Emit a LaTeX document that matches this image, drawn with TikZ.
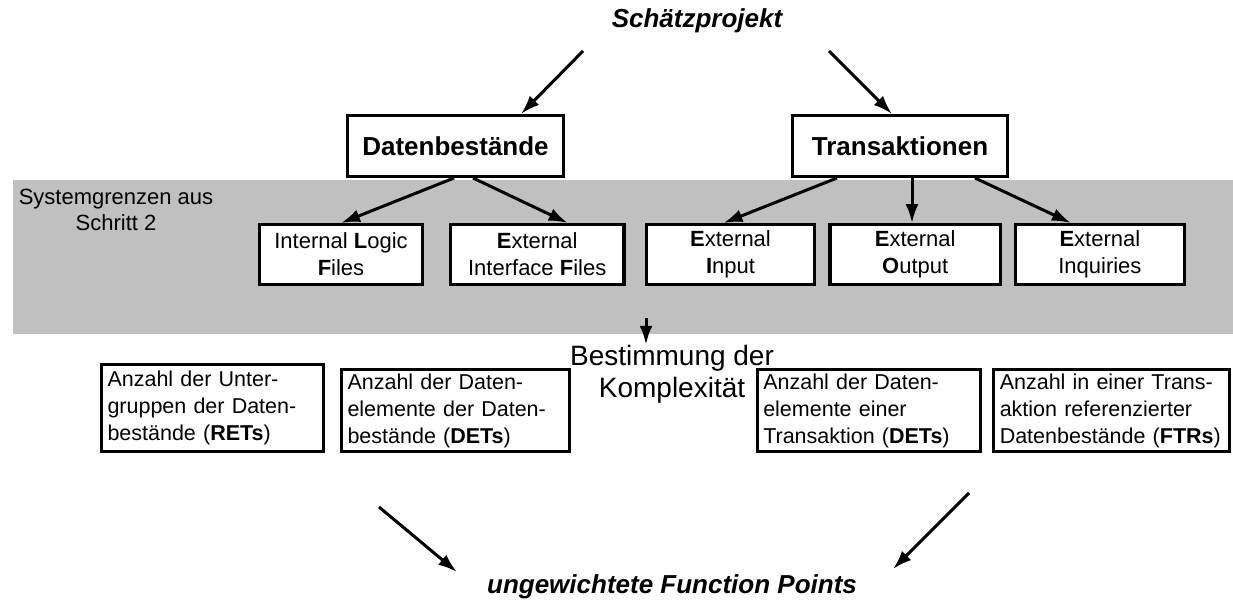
\documentclass[tikz,border=0pt]{standalone}
\usepackage{fontspec}
\setmainfont{Liberation Sans}
\usepackage{xcolor}
\usepackage{tikz}
\usetikzlibrary{arrows.meta, positioning}

\definecolor{bandgray}{RGB}{192,192,192}

\begin{document}
\begin{tikzpicture}[
  x=1pt, y=-1pt,
  every node/.style={inner sep=0pt},
  mainbox/.style={rectangle, draw=black, line width=3.2pt, fill=white, minimum height=60.8pt, font=\fontsize{26}{30}\selectfont\bfseries},
  typebox/.style={rectangle, draw=black, line width=3.2pt, fill=white, minimum height=59.8pt, align=center, font=\fontsize{22}{27}\selectfont},
  countbox/.style={rectangle, draw=black, line width=3pt, fill=white, minimum height=82pt, align=left, inner xsep=6pt, font=\fontsize{21.5}{27}\selectfont},
  heading/.style={font=\fontsize{26}{30}\selectfont\bfseries\itshape},
  note/.style={align=center, font=\fontsize{22}{26}\selectfont},
  arr/.style={-{Latex[length=19pt, width=13pt]}, line width=3pt}
]
  \useasboundingbox (0,0) rectangle (1233,602);

  % system boundary
  \fill[bandgray] (13,180) rectangle (1233,334);
  \node[note] (sys) at (116,210) {Systemgrenzen aus\\Schritt 2};

  \node[heading] (proj) at (697,21) {Schätzprojekt};
  \node[mainbox, minimum width=215.4pt] (dat) at (455.5,146) {Datenbestände};
  \node[mainbox, minimum width=214.4pt] (trans) at (900,146) {Transaktionen};

  \node[typebox, minimum width=162.4pt] (ilf) at (341,254.5) {Internal \textbf{L}ogic\\\textbf{F}iles};
  \node[typebox, minimum width=173.6pt, right=25pt of ilf] (eif) {\textbf{E}xternal\\Interface \textbf{F}iles};
  \node[typebox, minimum width=168.6pt, right=19pt of eif] (ei) {\textbf{E}xternal\\\textbf{I}nput};
  \node[typebox, minimum width=170.4pt, right=12pt of ei] (eo) {\textbf{E}xternal\\\textbf{O}utput};
  \node[typebox, minimum width=168.6pt, right=12pt of eo] (eq) {\textbf{E}xternal\\Inquiries};

  \draw[arr] ([xshift=-114pt, yshift=-30pt]proj.center) -- ([xshift=65.5pt]dat.north);
  \draw[arr] ([xshift=132pt, yshift=-30pt]proj.center) -- ([xshift=-8pt]trans.north);

  \draw[arr] ([xshift=-1.5pt]dat.south) -- (ilf.north);
  \draw[arr] ([xshift=17.5pt]dat.south) -- ([xshift=30.5pt]eif.north);
  \draw[arr] ([xshift=-63pt]trans.south) -- ([xshift=-7pt]ei.north);
  \draw[arr] ([xshift=12pt]trans.south) -- ([xshift=12pt]trans.south |- eo.north);
  \draw[arr] ([xshift=75pt]trans.south) -- ([xshift=-29pt]eq.north);

  % complexity
  \node[note, font=\fontsize{28}{32}\selectfont] (cplx) at (672,374) {Bestimmung der\\Komplexität};
  \coordinate (dn) at (646,318);
  \draw[arr] (dn) -- (dn |- cplx.north);

  \node[countbox, text width=210pt, minimum height=87pt] (rets) at (212.5,408) {Anzahl der Unter-\\gruppen der Daten-\\bestände (\textbf{RETs})};
  \node[countbox, text width=216pt, anchor=south west] (detsd) at ([xshift=15pt]rets.south east) {Anzahl der Daten-\\elemente der Daten-\\bestände (\textbf{DETs})};
  \node[countbox, text width=211.5pt] (detst) at (869,410.5) {Anzahl der Daten-\\elemente einer\\Transaktion (\textbf{DETs})};
  \node[countbox, text width=223.5pt, anchor=south west] (ftrs) at ([xshift=10pt]detst.south east) {Anzahl in einer Trans-\\aktion referenzierter\\Datenbestände (\textbf{FTRs})};

  % result
  \node[heading] (fp) at (672,587) {ungewichtete Function Points};
  \coordinate (fpl) at (379,507);
  \coordinate (fpr) at (969,493);
  \draw[arr] (fpl) -- ([xshift=-30pt, yshift=15pt]fp.west);
  \draw[arr] (fpr) -- ([xshift=36pt, yshift=18pt]fp.east);
\end{tikzpicture}
\end{document}
